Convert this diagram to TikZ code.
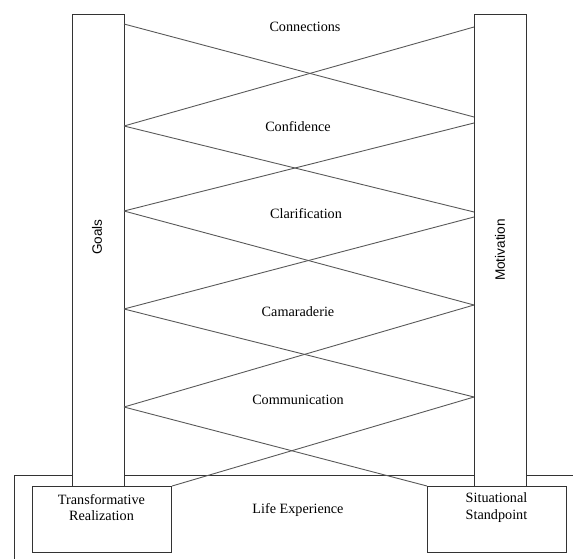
\documentclass[tikz,border=0pt]{standalone}
\usepackage{fontspec}
\setmainfont{Liberation Serif}
\newfontfamily\labelsans{Liberation Sans}
\begin{document}
\begin{tikzpicture}[x=1pt,y=-1pt,
  boxline/.style={draw=black!80,line width=1.1pt},
  pillar/.style={boxline,fill=white,minimum width=52pt,minimum height=472pt,inner sep=0pt,anchor=north west},
  basebox/.style={boxline,fill=white,minimum width=139pt,minimum height=66pt,inner sep=0pt,anchor=north west},
  link/.style={draw=black!65,line width=0.9pt},
  lbl/.style={font=\fontsize{14.2}{16}\selectfont,inner sep=0pt},
  vlbl/.style={font=\labelsans\fontsize{13.6}{15}\selectfont,inner sep=0pt,rotate=90}]
\useasboundingbox (0,0) rectangle (573,559);
\clip (0,0) rectangle (573,559);
% large base box (cut off at right and bottom)
\node[boxline,fill=white,anchor=north west,minimum width=600pt,minimum height=120pt,inner sep=0pt] (life) at (14,475) {};
% pillars
\node[pillar] (goals) at (72,14) {};
\node[pillar] (motiv) at (474,14) {};
% bottom boxes
\node[basebox] (tr) at (32,486) {};
\node[basebox] (ss) at (427,486) {};
% vertices on the left pillar
\coordinate (L0) at (124,24);
\coordinate (L1) at (124,126);
\coordinate (L2) at (124,211);
\coordinate (L3) at (124,309);
\coordinate (L4) at (124,407);
% vertices on the right pillar
\coordinate (R0) at (474,27);
\coordinate (R1a) at (474,117);
\coordinate (R1b) at (474,123);
\coordinate (R2a) at (474,212);
\coordinate (R2b) at (474,217);
\coordinate (R3) at (474,305);
\coordinate (R4) at (474,397);
% connectors
\draw[link] (L0) -- (R1a);
\draw[link] (L1) -- (R0);
\draw[link] (L1) -- (R2a);
\draw[link] (L2) -- (R1b);
\draw[link] (L2) -- (R3);
\draw[link] (L3) -- (R2b);
\draw[link] (L3) -- (R4);
\draw[link] (L4) -- (R3);
\draw[link] (L4) -- (ss.north west);
\draw[link] (tr.north east) -- (R4);
% labels
\node[lbl] (t1) at (305,27) {Connections};
\node[lbl] (t2) at (298,127) {Confidence};
\node[lbl] (t3) at (306,214) {Clarification};
\node[lbl] (t4) at (298,312) {Camaraderie};
\node[lbl] (t5) at (298,400) {Communication};
\node[lbl] (t6) at (298,510) {Life Experience};
\node[vlbl] (g) at (97,237) {Goals};
\node[vlbl] (m) at (500,250) {Motivation};
\node[lbl,align=center] (trt) at (101.5,507.5) {Transformative\\[0.5pt]Realization};
\node[lbl,align=center] (sst) at (496.5,507.5) {Situational\\[0.5pt]Standpoint};
\end{tikzpicture}
\end{document}
